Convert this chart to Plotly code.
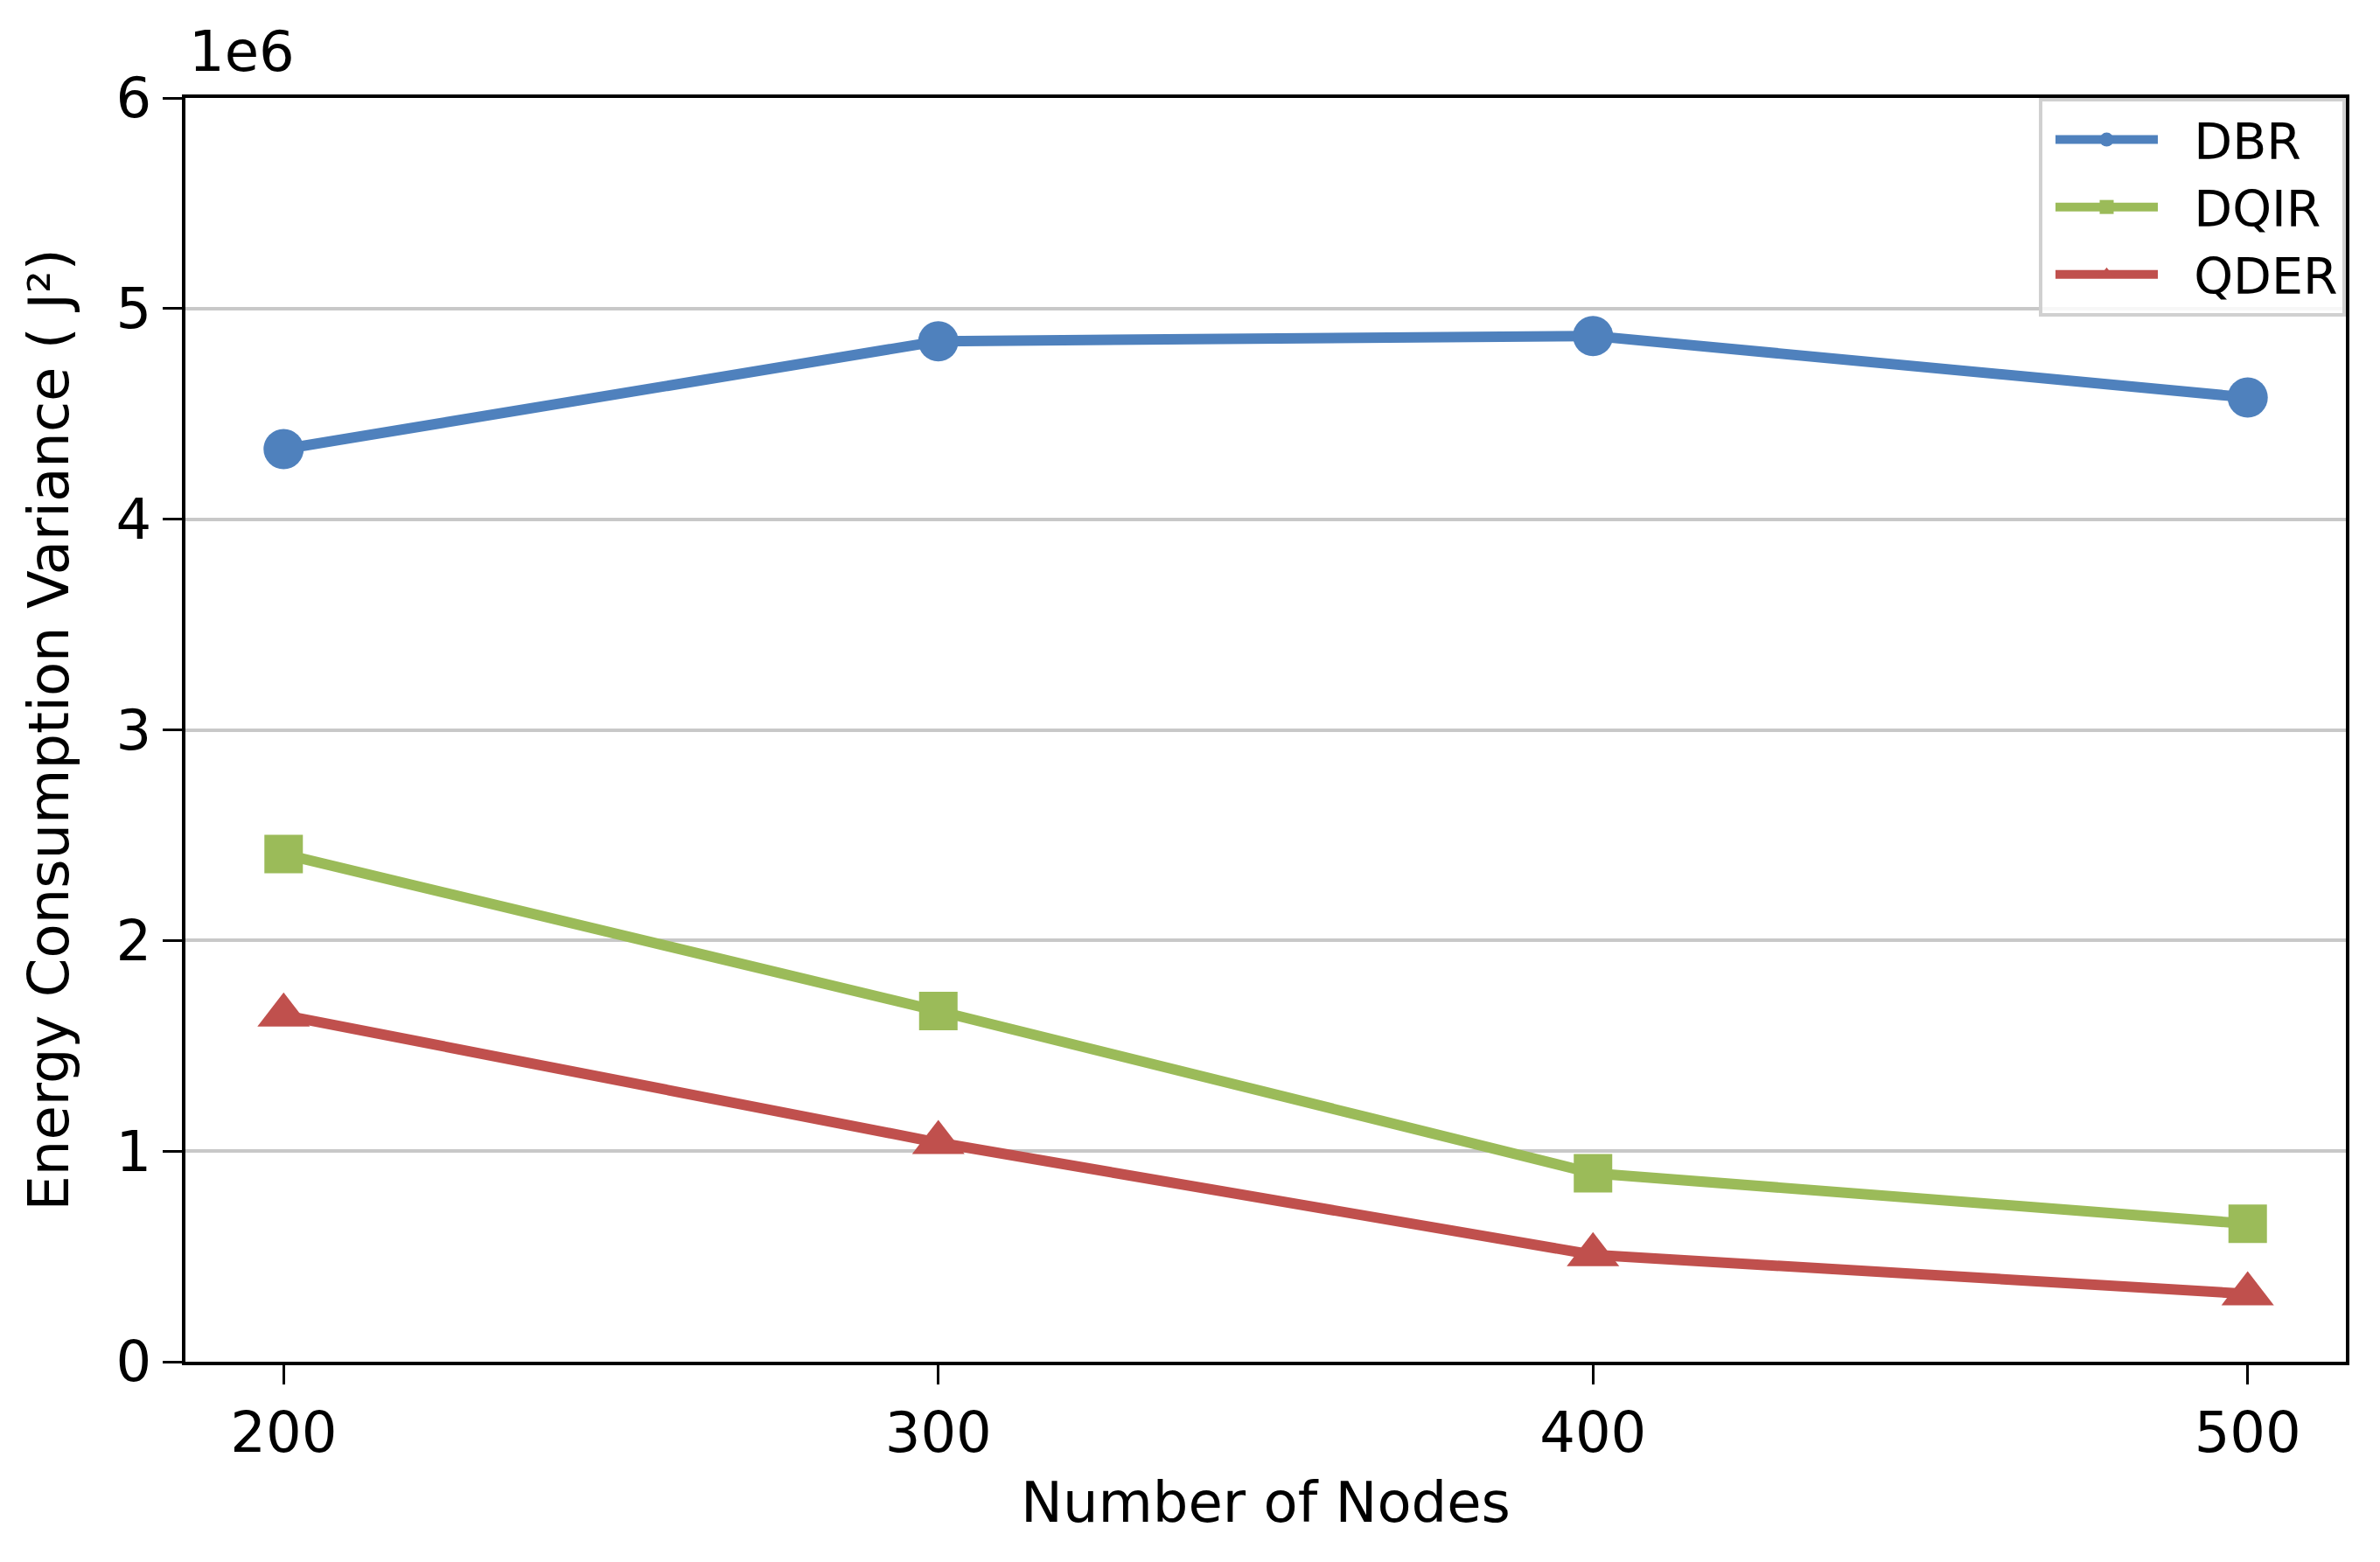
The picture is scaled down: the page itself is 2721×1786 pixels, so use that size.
import plotly.graph_objects as go

# number of nodes on the x axis
nodes = [200, 300, 400, 500]

# energy consumption variance (J^2)
dbr = [4.333e6, 4.845e6, 4.870e6, 4.578e6]
dqir = [2.410e6, 1.665e6, 0.895e6, 0.655e6]
qder = [1.645e6, 1.040e6, 0.508e6, 0.322e6]

y_ticks = [0, 1e6, 2e6, 3e6, 4e6, 5e6, 6e6]
y_tick_labels = ["0", "1", "2", "3", "4", "5", "6"]

series = [
    ("DBR", dbr, "#4F81BD", "circle", 46),
    ("DQIR", dqir, "#9BBB59", "square", 44),
    ("QDER", qder, "#C0504D", "triangle-up", 52),
]

FONT = "DejaVu Sans"

fig = go.Figure()
for name, vals, color, symbol, msize in series:
    fig.add_trace(go.Scatter(
        x=nodes, y=vals, mode="lines+markers",
        name="\u00a0\u00a0" + name,  # small gap between legend line and label
        line=dict(color=color, width=12),
        marker=dict(symbol=symbol, size=msize, color=color, line=dict(width=0)),
    ))

# the page body has an 8px margin, so the figure is a bit smaller than the window
fig.update_layout(
    width=2705, height=1770,
    margin=dict(l=204, r=31, t=104, b=221),
    paper_bgcolor="white", plot_bgcolor="white",
    font=dict(family=FONT, size=64, color="black"),
    showlegend=True,
    legend=dict(
        x=1, y=1, xanchor="right", yanchor="top",
        bgcolor="rgba(255,255,255,0.85)",
        bordercolor="#d0d0d0", borderwidth=4,
        font=dict(family=FONT, size=57, color="black"),
        itemwidth=117,
        indentation=10,
    ),
)

fig.update_xaxes(
    range=[185, 515], tickvals=nodes,
    showgrid=False, zeroline=False,
    showline=True, linecolor="black", linewidth=4, mirror=True,
    ticks="outside", ticklen=22, tickwidth=3, tickcolor="black",
    tickfont=dict(family=FONT, size=64),
    title=dict(text="Number of Nodes", font=dict(family=FONT, size=64), standoff=22),
)

fig.update_yaxes(
    range=[0, 6e6], tickvals=y_ticks, ticktext=y_tick_labels,
    showgrid=True, gridcolor="#c8c8c8", gridwidth=4, zeroline=False,
    showline=True, linecolor="black", linewidth=4, mirror=True,
    ticks="outside", ticklen=22, tickwidth=3, tickcolor="black",
    tickfont=dict(family=FONT, size=64),
    title=dict(text="Energy Consumption Variance ( J²)", font=dict(family=FONT, size=64), standoff=34),
)

# offset text above the y axis, as matplotlib shows it
fig.add_annotation(
    text="1e6", xref="paper", yref="paper", x=0, y=1,
    xanchor="left", yanchor="bottom", yshift=14, xshift=2,
    showarrow=False, font=dict(family=FONT, size=64, color="black"),
)

fig.write_html("out.html")
